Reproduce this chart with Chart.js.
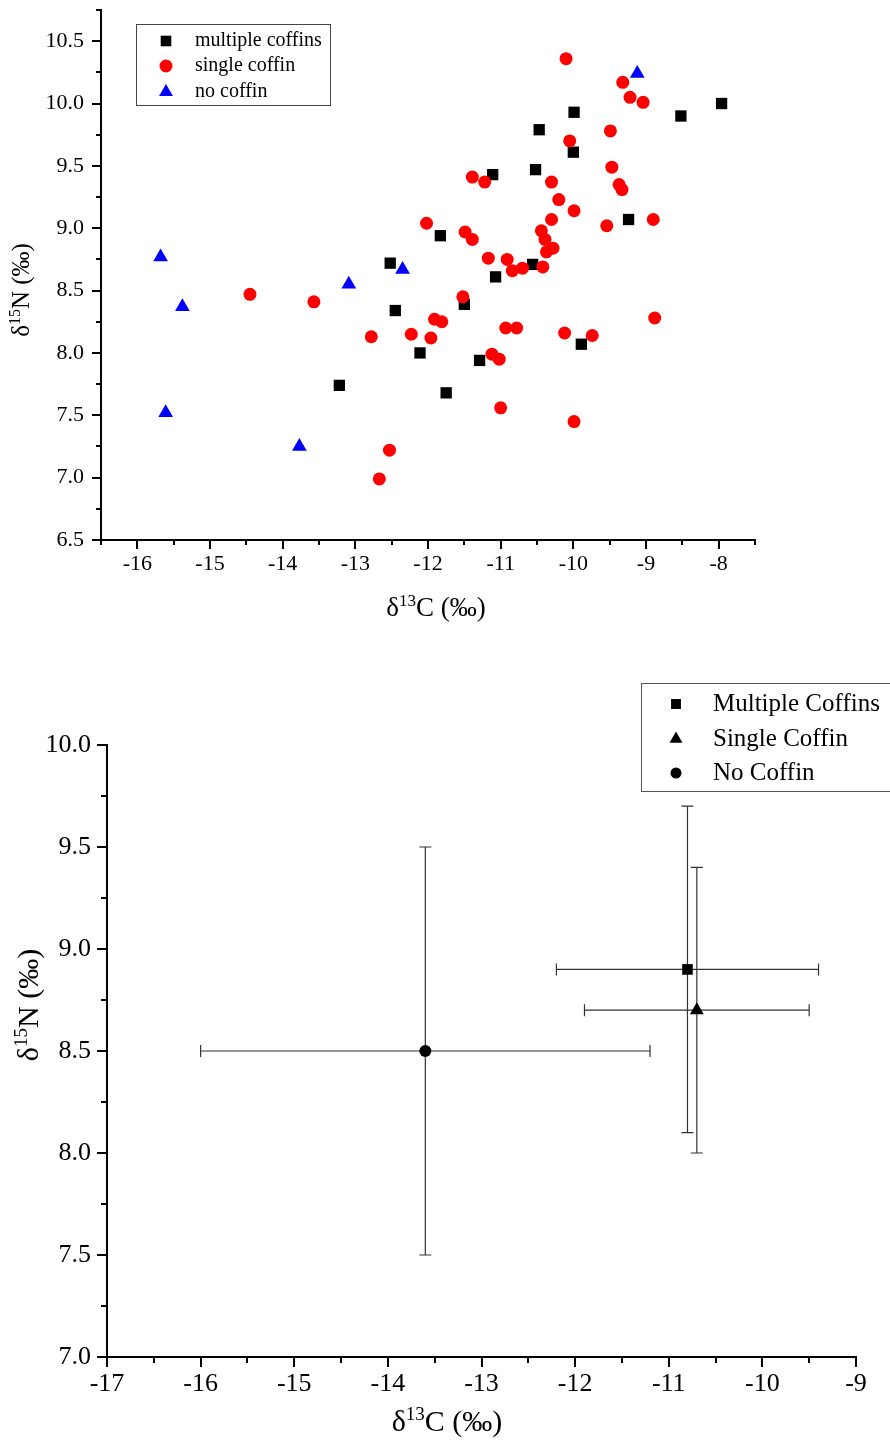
<!DOCTYPE html>
<html>
<head>
<meta charset="utf-8">
<script src="https://cdn.jsdelivr.net/npm/chart.js@4.4.1/dist/chart.umd.min.js"></script>
<style>
html,body{margin:0;padding:0;background:#fff;width:890px;height:1445px;overflow:hidden}
.wrap{position:absolute;left:0}
canvas{display:block}
</style>
</head>
<body>
<div class="wrap" style="top:0"><canvas id="c1" width="890" height="640"></canvas></div>
<div class="wrap" style="top:640px"><canvas id="c2" width="890" height="805"></canvas></div>
<script>
// ---------- Top chart data: δ13C (x) and δ15N (y) ----------
const seriesLabelsTop = ['multiple coffins', 'single coffin', 'no coffin'];
const multipleC = [-7.96,-8.52,-9.99,-10.47,-10.00,-11.11,-10.52,-9.24,-11.83,-10.56,-12.52,-11.07,-11.50,-12.45,-12.11,-13.22,-11.75,-11.29,-9.89];
const multipleN = [10.00,9.90,9.93,9.79,9.61,9.43,9.47,9.07,8.94,8.71,8.72,8.61,8.39,8.34,8.00,7.74,7.68,7.94,8.07];
const singleC = [-10.10,-9.32,-9.22,-9.04,-9.49,-10.05,-9.47,-9.37,-9.33,-11.39,-11.22,-10.30,-10.20,-9.99,-10.30,-9.54,-8.90,-12.02,-11.49,-11.39,-10.44,-10.39,-10.28,-10.37,-11.17,-10.91,-10.84,-10.70,-10.42,-11.52,-11.91,-11.81,-11.96,-8.88,-10.93,-10.78,-10.12,-9.74,-11.12,-11.02,-11.00,-9.99,-14.45,-13.57,-12.78,-12.23,-12.53,-12.67];
const singleN = [10.36,10.17,10.05,10.01,9.78,9.70,9.49,9.35,9.31,9.41,9.37,9.37,9.23,9.14,9.07,9.02,9.07,9.04,8.97,8.91,8.98,8.91,8.84,8.81,8.76,8.75,8.66,8.68,8.69,8.45,8.27,8.25,8.12,8.28,8.20,8.20,8.16,8.14,7.99,7.95,7.56,7.45,8.47,8.41,8.13,8.15,7.22,6.99];
const noneC = [-9.12,-15.68,-15.38,-13.09,-12.35,-15.61,-13.77];
const noneN = [10.24,8.77,8.37,8.55,8.67,7.52,7.25];

// ---------- Bottom chart data: group means and spreads ----------
const groupLabels = ['Multiple Coffins', 'Single Coffin', 'No Coffin'];
const meanC = [-10.8, -10.7, -13.6];
const meanN = [8.9, 8.7, 8.5];
const errC = [1.4, 1.2, 2.4];
const errN = [0.8, 0.7, 1.0];

// ---------- Axis ranges / ticks ----------
const topXRange = [-16.5, -7.5], topXStep = 0.5;
const topYRange = [6.5, 10.75], topYStep = 0.25;
const botXRange = [-17, -9], botXStep = 0.5;
const botYRange = [7.0, 10.0], botYStep = 0.25;

const SERIF = '"Liberation Serif", "Times New Roman", Times, serif';
const zip = (xs, ys) => xs.map((x, i) => ({x: x, y: ys[i]}));
const isMult = (v, m) => Math.abs(v / m - Math.round(v / m)) < 1e-9;

function drawRich(ctx, parts, cx, cy, size, rotate) {
  ctx.save();
  ctx.translate(cx, cy);
  if (rotate) ctx.rotate(-Math.PI / 2);
  const base = size + 'px ' + SERIF;
  const sup = Math.round(size * 0.62) + 'px ' + SERIF;
  let w = 0;
  const ws = parts.map(p => { ctx.font = p.sup ? sup : base; const m = ctx.measureText(p.t).width; w += m; return m; });
  let x = -w / 2;
  ctx.textBaseline = 'middle';
  ctx.textAlign = 'left';
  ctx.fillStyle = '#000';
  parts.forEach((p, i) => { ctx.font = p.sup ? sup : base; ctx.fillText(p.t, x, p.sup ? -size * 0.26 : 0); x += ws[i]; });
  ctx.restore();
}

function ticksPlugin(majorLen, minorLen, width) {
  return {
    id: 'axisTicks',
    afterDraw(chart) {
      const ctx = chart.ctx, a = chart.chartArea;
      ctx.save();
      ctx.strokeStyle = '#000';
      ctx.lineWidth = width;
      const xs = chart.scales.x, ys = chart.scales.y;
      xs.ticks.forEach(t => {
        const p = Math.round(xs.getPixelForValue(t.value));
        const len = t.label !== '' ? majorLen : minorLen;
        ctx.beginPath(); ctx.moveTo(p, a.bottom); ctx.lineTo(p, a.bottom + len); ctx.stroke();
      });
      ys.ticks.forEach(t => {
        const p = Math.round(ys.getPixelForValue(t.value));
        const len = t.label !== '' ? majorLen : minorLen;
        ctx.beginPath(); ctx.moveTo(a.left, p); ctx.lineTo(a.left - len, p); ctx.stroke();
      });
      ctx.restore();
    }
  };
}

function titlesPlugin(cfg) {
  return {
    id: 'axisTitles',
    afterDraw(chart) {
      const ctx = chart.ctx;
      drawRich(ctx, [{t: 'δ'}, {t: '13', sup: true}, {t: 'C (‰)'}], cfg.xTitle[0], cfg.xTitle[1], cfg.xSize, false);
      drawRich(ctx, [{t: 'δ'}, {t: '15', sup: true}, {t: 'N (‰)'}], cfg.yTitle[0], cfg.yTitle[1], cfg.ySize, true);
    }
  };
}

function legendPlugin(cfg) {
  return {
    id: 'boxLegend',
    afterDraw(chart) {
      const ctx = chart.ctx;
      ctx.save();
      ctx.fillStyle = '#fff';
      ctx.fillRect(cfg.box[0], cfg.box[1], cfg.box[2], cfg.box[3]);
      ctx.strokeStyle = cfg.borderColor;
      ctx.lineWidth = 1;
      ctx.strokeRect(cfg.box[0] + 0.5, cfg.box[1] + 0.5, cfg.box[2], cfg.box[3]);
      chart.data.datasets.forEach((ds, i) => {
        const y = cfg.rows[i];
        ctx.fillStyle = ds.backgroundColor;
        ctx.strokeStyle = ds.backgroundColor;
        Chart.helpers.drawPoint(ctx, {pointStyle: ds.pointStyle, radius: cfg.radii[i], rotation: 0, borderWidth: 0}, cfg.markerX, y);
        ctx.fillStyle = '#000';
        ctx.font = cfg.fontSize + 'px ' + SERIF;
        ctx.textBaseline = 'middle';
        ctx.textAlign = 'left';
        ctx.fillText(ds.label, cfg.textX, y);
      });
      ctx.restore();
    }
  };
}

const errorBarPlugin = {
  id: 'errorBars',
  beforeDatasetsDraw(chart) {
    const ctx = chart.ctx, xs = chart.scales.x, ys = chart.scales.y;
    ctx.save();
    ctx.strokeStyle = '#333';
    ctx.lineWidth = 1.2;
    const cap = 6;
    chart.data.datasets.forEach(ds => {
      ds.data.forEach((d, j) => {
        const ex = ds.errX[j], ey = ds.errY[j];
        const px = xs.getPixelForValue(d.x), py = ys.getPixelForValue(d.y);
        const x1 = xs.getPixelForValue(d.x - ex), x2 = xs.getPixelForValue(d.x + ex);
        const y1 = ys.getPixelForValue(d.y + ey), y2 = ys.getPixelForValue(d.y - ey);
        ctx.beginPath();
        ctx.moveTo(x1, py); ctx.lineTo(x2, py);
        ctx.moveTo(x1, py - cap); ctx.lineTo(x1, py + cap);
        ctx.moveTo(x2, py - cap); ctx.lineTo(x2, py + cap);
        ctx.moveTo(px, y1); ctx.lineTo(px, y2);
        ctx.moveTo(px - cap, y1); ctx.lineTo(px + cap, y1);
        ctx.moveTo(px - cap, y2); ctx.lineTo(px + cap, y2);
        ctx.stroke();
      });
    });
    ctx.restore();
  }
};

function fixScale(prop, val) {
  return s => { s[prop] = val; s.paddingTop = 0; s.paddingBottom = 0; s.paddingLeft = 0; s.paddingRight = 0; };
}

// ---------- Top chart ----------
new Chart(document.getElementById('c1'), {
  type: 'scatter',
  data: {
    datasets: [
      {label: seriesLabelsTop[0], data: zip(multipleC, multipleN), pointStyle: 'rect', pointRadius: 8, backgroundColor: '#000000', borderColor: '#000000', borderWidth: 0, order: 2},
      {label: seriesLabelsTop[1], data: zip(singleC, singleN), pointStyle: 'circle', pointRadius: 6.5, backgroundColor: '#ff0000', borderColor: '#ff0000', borderWidth: 0, order: 1},
      {label: seriesLabelsTop[2], data: zip(noneC, noneN), pointStyle: 'triangle', pointRadius: 8.5, backgroundColor: '#0000ff', borderColor: '#0000ff', borderWidth: 0, order: 0}
    ]
  },
  options: {
    responsive: false,
    animation: false,
    events: [],
    layout: {padding: {left: 0, top: 10, right: 135, bottom: 0}},
    plugins: {legend: {display: false}, tooltip: {enabled: false}},
    scales: {
      x: {
        type: 'linear', position: 'bottom', min: topXRange[0], max: topXRange[1],
        ticks: {stepSize: topXStep, autoSkip: false, maxRotation: 0, padding: 11, color: '#000', font: {family: SERIF, size: 22},
          callback: v => isMult(v, 1) ? String(v) : ''},
        grid: {display: false, drawTicks: false},
        border: {display: true, color: '#000', width: 2},
        afterFit: fixScale('height', 100)
      },
      y: {
        type: 'linear', position: 'left', min: topYRange[0], max: topYRange[1],
        ticks: {stepSize: topYStep, autoSkip: false, padding: 17, color: '#000', font: {family: SERIF, size: 22},
          callback: v => isMult(v, 0.5) ? v.toFixed(1) : ''},
        grid: {display: false, drawTicks: false},
        border: {display: true, color: '#000', width: 2},
        afterFit: fixScale('width', 101)
      }
    }
  },
  plugins: [
    ticksPlugin(9, 5, 2),
    titlesPlugin({xTitle: [436, 609], xSize: 27, yTitle: [22, 290], ySize: 25}),
    legendPlugin({box: [136, 24, 194, 81], borderColor: '#444', rows: [41, 66, 92], markerX: 166, textX: 195, fontSize: 20, radii: [7.5, 6.5, 8]})
  ]
});

// ---------- Bottom chart ----------
const botStyles = ['rect', 'triangle', 'circle'];
const botRadii = [7.5, 8, 6];
new Chart(document.getElementById('c2'), {
  type: 'scatter',
  data: {
    datasets: groupLabels.map((lab, i) => ({
      label: lab,
      data: [{x: meanC[i], y: meanN[i]}],
      errX: [errC[i]],
      errY: [errN[i]],
      pointStyle: botStyles[i],
      pointRadius: botRadii[i],
      backgroundColor: '#000000',
      borderColor: '#000000',
      borderWidth: 0
    }))
  },
  options: {
    responsive: false,
    animation: false,
    events: [],
    layout: {padding: {left: 0, top: 105, right: 34, bottom: 0}},
    plugins: {legend: {display: false}, tooltip: {enabled: false}},
    scales: {
      x: {
        type: 'linear', position: 'bottom', min: botXRange[0], max: botXRange[1],
        ticks: {stepSize: botXStep, autoSkip: false, maxRotation: 0, padding: 12, color: '#000', font: {family: SERIF, size: 26},
          callback: v => isMult(v, 1) ? String(v) : ''},
        grid: {display: false, drawTicks: false},
        border: {display: true, color: '#000', width: 2},
        afterFit: fixScale('height', 88)
      },
      y: {
        type: 'linear', position: 'left', min: botYRange[0], max: botYRange[1],
        ticks: {stepSize: botYStep, autoSkip: false, padding: 16, color: '#000', font: {family: SERIF, size: 26},
          callback: v => isMult(v, 0.5) ? v.toFixed(1) : ''},
        grid: {display: false, drawTicks: false},
        border: {display: true, color: '#000', width: 2},
        afterFit: fixScale('width', 107)
      }
    }
  },
  plugins: [
    errorBarPlugin,
    ticksPlugin(10, 6, 2),
    titlesPlugin({xTitle: [447, 783], xSize: 30, yTitle: [30, 365], ySize: 30}),
    legendPlugin({box: [641, 43, 260, 108], borderColor: '#555', rows: [64, 99, 133], markerX: 676, textX: 713, fontSize: 25, radii: [7, 7.5, 5.5]})
  ]
});
</script>
</body>
</html>
